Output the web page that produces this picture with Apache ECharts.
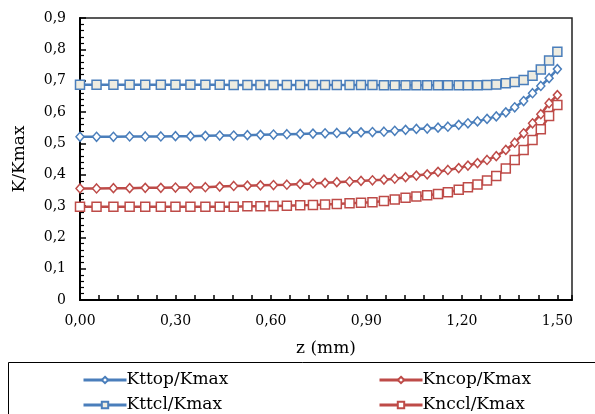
<!DOCTYPE html>
<html>
<head>
<meta charset="utf-8">
<script src="https://cdn.jsdelivr.net/npm/echarts@6/dist/echarts.min.js"></script>
<style>
  html, body { margin: 0; padding: 0; background: #fff; }
  #chart { width: 595px; height: 414px; }
</style>
</head>
<body>
<div id="chart"></div>
<script>
// z positions (mm), mesh is denser towards z = 1.5
const zValues = [
  0.000, 0.052, 0.105, 0.156, 0.205, 0.254, 0.300, 0.347, 0.394, 0.439,
  0.483, 0.526, 0.567, 0.608, 0.650, 0.692, 0.732, 0.770, 0.807, 0.847,
  0.883, 0.919, 0.955, 0.989, 1.023, 1.057, 1.091, 1.125, 1.156, 1.190,
  1.219, 1.249, 1.279, 1.308, 1.338, 1.366, 1.394, 1.422, 1.448, 1.474,
  1.500
]

const kttop = [
  0.521, 0.521, 0.521, 0.522, 0.522, 0.522, 0.523, 0.523, 0.524, 0.525,
  0.525, 0.526, 0.527, 0.528, 0.529, 0.530, 0.531, 0.532, 0.533, 0.534,
  0.535, 0.536, 0.537, 0.540, 0.543, 0.546, 0.547, 0.550, 0.553, 0.559,
  0.564, 0.570, 0.578, 0.586, 0.599, 0.615, 0.635, 0.660, 0.683, 0.708,
  0.737
]

const kttcl = [
  0.687, 0.687, 0.687, 0.687, 0.687, 0.687, 0.687, 0.687, 0.687, 0.687,
  0.686, 0.686, 0.686, 0.686, 0.686, 0.686, 0.686, 0.686, 0.686, 0.686,
  0.686, 0.686, 0.685, 0.685, 0.685, 0.685, 0.685, 0.685, 0.685, 0.685,
  0.685, 0.685, 0.686, 0.688, 0.692, 0.696, 0.702, 0.716, 0.736, 0.764,
  0.792
]

const kncop = [
  0.356, 0.356, 0.357, 0.357, 0.358, 0.358, 0.359, 0.359, 0.360, 0.362,
  0.364, 0.365, 0.366, 0.367, 0.368, 0.370, 0.372, 0.374, 0.376, 0.378,
  0.380, 0.382, 0.384, 0.387, 0.392, 0.397, 0.401, 0.409, 0.415, 0.421,
  0.429, 0.437, 0.447, 0.459, 0.479, 0.502, 0.532, 0.564, 0.593, 0.628,
  0.654
]

const knccl = [
  0.298, 0.298, 0.298, 0.298, 0.298, 0.298, 0.298, 0.298, 0.298, 0.298,
  0.298, 0.299, 0.299, 0.300, 0.301, 0.302, 0.303, 0.305, 0.306, 0.309,
  0.310, 0.312, 0.316, 0.321, 0.326, 0.330, 0.334, 0.338, 0.344, 0.352,
  0.360, 0.369, 0.381, 0.396, 0.420, 0.447, 0.479, 0.511, 0.545, 0.587,
  0.622
]

const seriesNames = ['Kttop/Kmax', 'Kttcl/Kmax', 'Kncop/Kmax', 'Knccl/Kmax']

const BLUE = '#4a7ebb'
const RED = '#be4b48'
const FONT = 'DejaVu Serif'

const pairs = (ys) => zValues.map((z, i) => [z, ys[i]])

const lineSeries = (name, ys, color, symbol, fill, size) => ({
  name: name,
  type: 'line',
  data: pairs(ys),
  symbol: symbol,
  symbolSize: size,
  showAllSymbol: true,
  lineStyle: { color: color, width: 2.5 },
  itemStyle: { color: fill, borderColor: color, borderWidth: 1.5 },
  emphasis: { disabled: true },
  animation: false
})

const fmtComma = (v, digits) => v.toFixed(digits).replace('.', ',')

const legendBox = (names, left) => ({
  data: names,
  orient: 'vertical',
  left: left,
  top: 365,
  height: 60,
  itemWidth: 43,
  itemHeight: 8,
  itemGap: 5,
  lineStyle: { width: 3 },
  textStyle: { fontFamily: FONT, fontSize: 17, lineHeight: 20, color: '#000', padding: [0, 0, 0, -5] },
  selectedMode: false
})

const chart = echarts.init(document.getElementById('chart'))

const option = {
  backgroundColor: '#fff',
  animation: false,
  grid: {
    left: 80,
    right: 23,
    top: 18,
    bottom: 114,
    show: true,
    borderColor: '#222',
    borderWidth: 1.5,
    backgroundColor: 'transparent'
  },
  xAxis: {
    type: 'value',
    min: 0,
    max: 1.546,
    interval: 0.06,
    name: 'z (mm)',
    nameLocation: 'middle',
    nameGap: 40,
    nameTextStyle: { fontFamily: FONT, fontSize: 17, color: '#000' },
    axisLine: { lineStyle: { color: '#000', width: 2 } },
    axisTick: { inside: true, length: 5, lineStyle: { color: '#000', width: 1.5 } },
    splitLine: { show: false },
    axisLabel: {
      margin: 14,
      fontFamily: FONT,
      fontSize: 14,
      color: '#000',
      formatter: (v) => {
        const k = v / 0.3
        if (Math.abs(k - Math.round(k)) > 1e-6 || v > 1.5 + 1e-6) return ''
        return fmtComma(v, 2)
      }
    }
  },
  yAxis: {
    type: 'value',
    min: 0,
    max: 0.9,
    interval: 0.1,
    name: 'K/Kmax',
    nameLocation: 'middle',
    nameGap: 52,
    nameTextStyle: { fontFamily: FONT, fontSize: 17, color: '#000' },
    axisLine: { show: true, lineStyle: { color: '#000', width: 2 } },
    axisTick: { inside: true, length: 6, lineStyle: { color: '#000', width: 1.5 } },
    minorTick: { show: true, splitNumber: 5, length: 4, lineStyle: { color: '#000', width: 1.2 } },
    splitLine: { show: false },
    axisLabel: {
      margin: 14,
      fontFamily: FONT,
      fontSize: 14,
      color: '#000',
      formatter: (v) => (Math.abs(v) < 1e-9 ? '0' : fmtComma(v, 1))
    }
  },
  legend: [
    legendBox([seriesNames[0], seriesNames[1]], 77),
    legendBox([seriesNames[2], seriesNames[3]], 373)
  ],
  graphic: [
    {
      type: 'rect',
      shape: { x: 8.5, y: 362.5, width: 620, height: 80 },
      style: { fill: 'transparent', stroke: '#000', lineWidth: 1 },
      silent: true,
      z: -1
    }
  ],
  series: [
    lineSeries(seriesNames[0], kttop, BLUE, 'diamond', '#fff', [8, 9]),
    lineSeries(seriesNames[1], kttcl, BLUE, 'rect', '#eeece1', 9),
    lineSeries(seriesNames[2], kncop, RED, 'diamond', '#fff', [8, 9]),
    lineSeries(seriesNames[3], knccl, RED, 'rect', '#fff', 9)
  ]
}

chart.setOption(option)
</script>
</body>
</html>
